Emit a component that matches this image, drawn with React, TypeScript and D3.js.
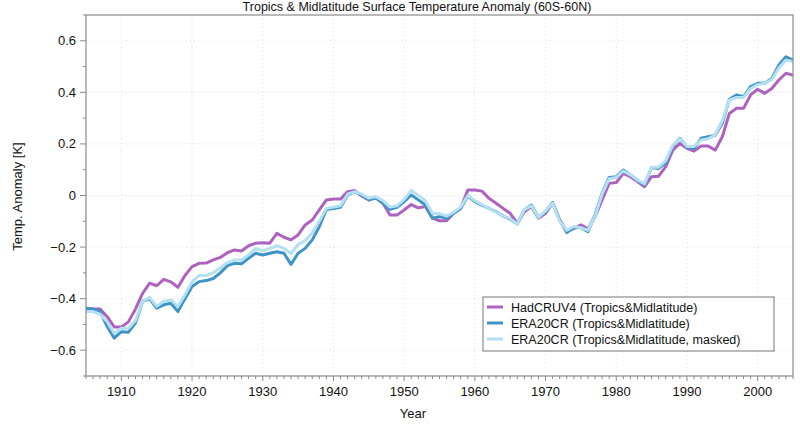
import React from "react";
import * as d3 from "d3";

const years: number[] = d3.range(1905, 2006);

const hadcrut: number[] = [
  -0.44, -0.44, -0.44, -0.47, -0.51, -0.51, -0.49, -0.44, -0.38, -0.34,
  -0.35, -0.325, -0.335, -0.356, -0.31, -0.276, -0.263, -0.262, -0.25, -0.24,
  -0.222, -0.211, -0.215, -0.195, -0.185, -0.183, -0.185, -0.147, -0.162, -0.172,
  -0.153, -0.114, -0.095, -0.056, -0.017, -0.014, -0.014, 0.015, 0.019, -0.002,
  -0.017, -0.007, -0.03, -0.076, -0.076, -0.056, -0.035, -0.048, -0.043, -0.088,
  -0.098, -0.098, -0.069, -0.05, 0.021, 0.021, 0.017, -0.011, -0.03, -0.05,
  -0.069, -0.108, -0.063, -0.043, -0.088, -0.069, -0.03, -0.095, -0.138, -0.128,
  -0.114, -0.13, -0.082, -0.017, 0.047, 0.05, 0.086, 0.073, 0.054, 0.034,
  0.073, 0.075, 0.112, 0.176, 0.202, 0.183, 0.172, 0.192, 0.192, 0.176,
  0.228, 0.318, 0.338, 0.338, 0.39, 0.412, 0.396, 0.415, 0.448, 0.474,
  0.467,
];

const era20cr: number[] = [
  -0.437, -0.44, -0.45, -0.508, -0.553, -0.528, -0.53, -0.495, -0.41, -0.4,
  -0.437, -0.424, -0.418, -0.45, -0.4, -0.353, -0.334, -0.33, -0.322, -0.3,
  -0.272, -0.263, -0.265, -0.243, -0.224, -0.231, -0.224, -0.218, -0.224, -0.267,
  -0.224, -0.205, -0.172, -0.121, -0.054, -0.05, -0.046, 0.002, 0.015, 0.002,
  -0.017, -0.01, -0.03, -0.054, -0.046, -0.024, 0.002, -0.017, -0.037, -0.088,
  -0.082, -0.088, -0.069, -0.05, -0.002, -0.024, -0.037, -0.05, -0.063, -0.08,
  -0.092, -0.11, -0.056, -0.037, -0.085, -0.063, -0.027, -0.095, -0.144, -0.125,
  -0.125, -0.14, -0.075, 0.008, 0.07, 0.073, 0.099, 0.08, 0.06, 0.041,
  0.109, 0.105, 0.127, 0.192, 0.222, 0.187, 0.183, 0.222, 0.228, 0.234,
  0.28, 0.373, 0.39, 0.383, 0.422, 0.435, 0.435, 0.454, 0.506, 0.538,
  0.525,
];

const era20crMasked: number[] = [
  -0.45, -0.45, -0.46, -0.49, -0.535, -0.515, -0.515, -0.485, -0.41, -0.395,
  -0.43, -0.41, -0.405, -0.43, -0.385, -0.335, -0.31, -0.31, -0.3, -0.28,
  -0.26, -0.25, -0.25, -0.23, -0.205, -0.215, -0.205, -0.195, -0.205, -0.225,
  -0.19, -0.175, -0.145, -0.1, -0.05, -0.045, -0.04, 0.005, 0.015, 0.005,
  -0.01, -0.005, -0.02, -0.045, -0.04, -0.015, 0.02, 0.0, -0.02, -0.07,
  -0.07, -0.08, -0.065, -0.045, 0.0, -0.02, -0.035, -0.05, -0.065, -0.08,
  -0.09, -0.11, -0.055, -0.04, -0.085, -0.06, -0.03, -0.1, -0.135, -0.12,
  -0.125, -0.135, -0.08, 0.005, 0.065, 0.07, 0.095, 0.08, 0.06, 0.045,
  0.11, 0.11, 0.135, 0.195, 0.22, 0.19, 0.19, 0.215, 0.22, 0.235,
  0.29, 0.37, 0.38, 0.38, 0.415, 0.43, 0.435, 0.45, 0.495, 0.525,
  0.52,
];

const seriesNames: string[] = [
  "HadCRUV4 (Tropics&Midlatitude)",
  "ERA20CR (Tropics&Midlatitude)",
  "ERA20CR (Tropics&Midlatitude, masked)",
];
const seriesColors: string[] = ["#ad63bd", "#3f93c6", "#b3e0f3"];

const xMajorTicks: number[] = [1910, 1920, 1930, 1940, 1950, 1960, 1970, 1980, 1990, 2000];
const yMajorTicks: number[] = [-0.6, -0.4, -0.2, 0, 0.2, 0.4, 0.6];

const W = 800;
const H = 426;
const L = 86, R = 793, T = 15, B = 376;
const FONT = "'Liberation Sans', Arial, Helvetica, sans-serif";

export default function App() {
  const x = d3.scaleLinear().domain([1905, 2005]).range([L, R]);
  const y = d3.scaleLinear().domain([-0.7, 0.7]).range([B, T]);

  const line = d3
    .line<[number, number]>()
    .x((d) => x(d[0]))
    .y((d) => y(d[1]));

  const allSeries = [hadcrut, era20cr, era20crMasked];
  const minorX = d3.range(1905, 2006).filter((v) => v % 10 !== 0);
  const minorY = d3.range(-7, 8).map((v) => v / 10).filter((v) => Math.abs(Math.round(v * 10)) % 2 === 1);

  const axisColor = "#8a8a8a";

  return (
    <svg
      width={W}
      height={H}
      style={{ position: "absolute", left: 0, top: 0, background: "#fff" }}
      fontFamily={FONT}
    >
      <rect x={0} y={0} width={W} height={H} fill="#fff" />
      {/* grid */}
      <g stroke="#d6d6d6" strokeWidth={0.8} strokeDasharray="1,3">
        {xMajorTicks.map((t) => (
          <line key={"gx" + t} x1={x(t)} x2={x(t)} y1={T} y2={B} />
        ))}
        {yMajorTicks.map((t) => (
          <line key={"gy" + t} x1={L} x2={R} y1={y(t)} y2={y(t)} />
        ))}
      </g>

      {/* series */}
      {allSeries.map((s, i) => (
        <path
          key={"s" + i}
          d={line(years.map((yr, j) => [yr, s[j]] as [number, number])) || ""}
          fill="none"
          stroke={seriesColors[i]}
          strokeWidth={3}
          strokeLinejoin="round"
        />
      ))}

      {/* frame */}
      <rect x={L} y={T} width={R - L} height={B - T} fill="none" stroke={axisColor} strokeWidth={1.2} />

      {/* x ticks */}
      <g stroke={axisColor} strokeWidth={1}>
        {minorX.map((t) => (
          <line key={"mx" + t} x1={x(t)} x2={x(t)} y1={B} y2={B + 3} />
        ))}
        {xMajorTicks.map((t) => (
          <line key={"Mx" + t} x1={x(t)} x2={x(t)} y1={B} y2={B + 5} />
        ))}
        {minorY.map((t) => (
          <line key={"my" + t} x1={L - 3} x2={L} y1={y(t)} y2={y(t)} />
        ))}
        {yMajorTicks.map((t) => (
          <line key={"My" + t} x1={L - 6} x2={L} y1={y(t)} y2={y(t)} />
        ))}
      </g>

      <g fontSize={13} fill="#111">
        {xMajorTicks.map((t) => (
          <text key={"lx" + t} x={x(t)} y={396} textAnchor="middle">
            {t}
          </text>
        ))}
        {yMajorTicks.map((t) => (
          <text key={"ly" + t} x={L - 10} y={y(t) + 4.5} textAnchor="end">
            {t === 0 ? "0" : d3.format(".1f")(t).replace("-", "\u2212")}
          </text>
        ))}
      </g>

      <text x={417} y={11} textAnchor="middle" fontSize={12.5} fill="#111">
        Tropics &amp; Midlatitude Surface Temperature Anomaly (60S-60N)
      </text>
      <text x={413} y={418} textAnchor="middle" fontSize={13} fill="#111">
        Year
      </text>
      <text
        transform={`translate(22, ${(T + B) / 2 + 1}) rotate(-90)`}
        textAnchor="middle"
        fontSize={13}
        fill="#111"
      >
        Temp. Anomaly [K]
      </text>

      {/* legend */}
      <g>
        <rect x={483} y={297} width={291} height={54} fill="#fff" stroke="#777" strokeWidth={1} />
        {seriesNames.map((n, i) => (
          <g key={"lg" + i}>
            <line x1={487} x2={503} y1={307 + i * 16} y2={307 + i * 16} stroke={seriesColors[i]} strokeWidth={3} />
            <text x={511} y={311.5 + i * 16} fontSize={12.5} fill="#111">
              {n}
            </text>
          </g>
        ))}
      </g>
    </svg>
  );
}
